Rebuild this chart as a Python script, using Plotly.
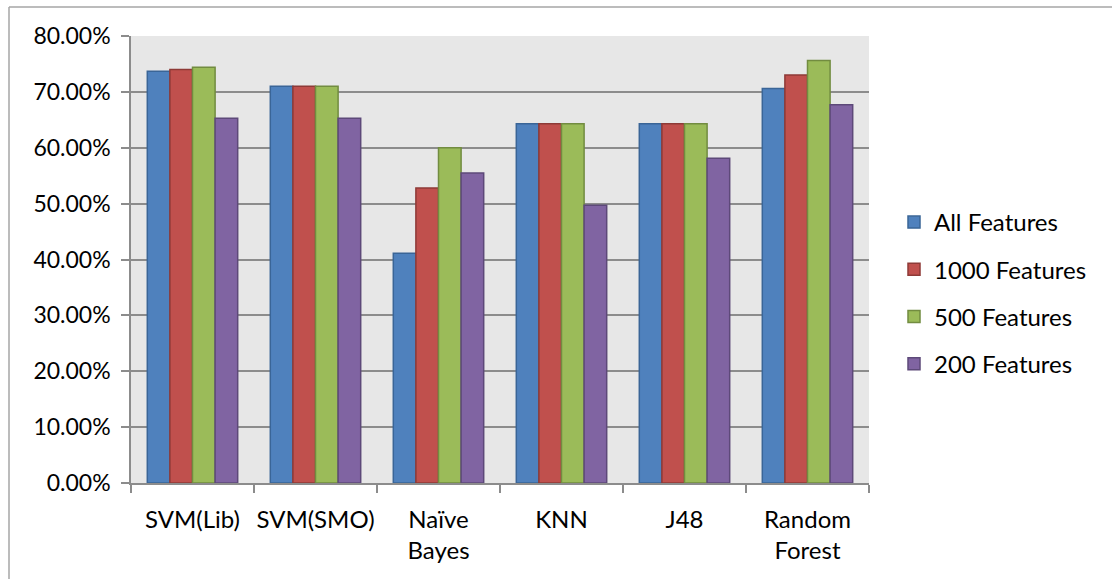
import plotly.graph_objects as go

# Classifier accuracy by feature-set size
categories = ["SVM(Lib)", "SVM(SMO)", "Naïve<br>Bayes", "KNN", "J48", "Random<br>Forest"]
all_features = [0.737, 0.710, 0.411, 0.643, 0.643, 0.706]
features_1000 = [0.740, 0.710, 0.528, 0.643, 0.643, 0.730]
features_500 = [0.744, 0.710, 0.600, 0.643, 0.643, 0.756]
features_200 = [0.653, 0.653, 0.555, 0.497, 0.581, 0.677]

series_names = ["All Features", "1000 Features", "500 Features", "200 Features"]
series_values = [all_features, features_1000, features_500, features_200]
fill_colors = ["#4F81BD", "#C0504D", "#9BBB59", "#8064A2"]
edge_colors = ["#3A6597", "#8E3A37", "#728C40", "#5D4979"]

W, H = 1112, 579
FONT = "Lato"

fig = go.Figure()
for i, (name, vals) in enumerate(zip(series_names, series_values)):
    fig.add_trace(go.Bar(
        x=categories, y=vals, name=name, legendgroup=name,
        marker=dict(color=fill_colors[i], line=dict(color=edge_colors[i], width=1.5)),
    ))

grid = "#8C8C8C"
fig.update_layout(
    width=W, height=H, autosize=False,
    margin=dict(l=0, r=0, t=0, b=0, autoexpand=False),
    paper_bgcolor="white", plot_bgcolor="#E7E7E7",
    barmode="group", bargap=0.265, bargroupgap=0,
    font=dict(family=FONT, size=23, color="black"),
    xaxis=dict(
        domain=[131 / W, 869 / W],
        showline=True, linecolor=grid, linewidth=1.5,
        ticks="outside", ticklen=8, tickcolor=grid, tickwidth=1.5,
        tickson="boundaries", showgrid=False,
        tickangle=0, automargin=False,
        tickfont=dict(family=FONT, size=24),
        ticklabelstandoff=14,
    ),
    yaxis=dict(
        domain=[(H - 483) / H, (H - 36) / H],
        range=[0, 0.8], dtick=0.1, tickformat=".2%",
        showline=True, linecolor=grid, linewidth=1.5,
        ticks="outside", ticklen=8, tickcolor=grid, tickwidth=1.5,
        showgrid=True, gridcolor=grid, gridwidth=1.5,
        zeroline=False, automargin=False,
        tickfont=dict(family=FONT, size=23),
        ticklabelstandoff=6,
    ),
    legend=dict(
        x=894 / W, xanchor="left", y=1 - 293 / H, yanchor="middle",
        font=dict(family=FONT, size=24), tracegroupgap=13,
        bgcolor="rgba(0,0,0,0)",
    ),
    shapes=[
        dict(type="line", xref="paper", yref="paper",
             x0=9 / W, x1=9 / W, y0=1 - 7 / H, y1=0,
             line=dict(color="#A6A6A6", width=1.5)),
        dict(type="line", xref="paper", yref="paper",
             x0=9 / W, x1=1, y0=1 - 7 / H, y1=1 - 7 / H,
             line=dict(color="#A6A6A6", width=1.5)),
    ],
)

fig.write_html("out.html")
